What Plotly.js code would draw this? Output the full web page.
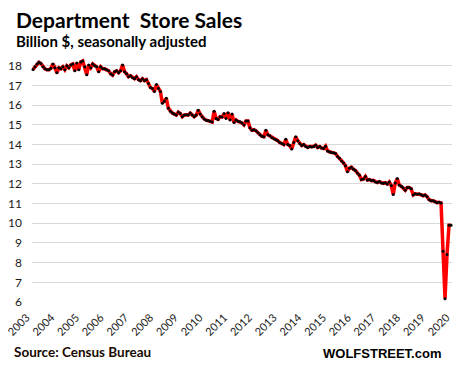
<!DOCTYPE html>
<html>
<head>
<meta charset="utf-8">
<script src="https://cdn.plot.ly/plotly-3.0.1.min.js"></script>
<style>html,body{margin:0;padding:0;background:#fff;}#chart{width:456px;height:366px;}</style>
</head>
<body>
<div id="chart"></div>
<script>
// Monthly department store sales, billion $, seasonally adjusted (Jan 2003 - Jul 2020)
const v2003 = [17.82, 17.95, 18.10, 18.18, 18.12, 17.95, 17.85, 17.80, 17.80, 17.88, 18.10, 17.90];
const v2004 = [17.65, 17.90, 17.85, 17.95, 17.80, 18.00, 17.90, 18.05, 18.10, 17.75, 18.15, 17.80];
const v2005 = [18.20, 18.25, 17.95, 17.55, 18.05, 17.90, 18.10, 18.00, 17.95, 17.70, 17.95, 17.85];
const v2006 = [17.85, 17.80, 17.75, 17.60, 17.53, 17.70, 17.75, 17.65, 17.75, 18.05, 17.70, 17.60];
const v2007 = [17.45, 17.50, 17.40, 17.35, 17.45, 17.30, 17.25, 17.35, 17.25, 17.30, 17.10, 16.90];
const v2008 = [16.85, 16.70, 17.05, 16.85, 16.70, 16.10, 16.20, 16.35, 15.85, 15.70, 15.60, 15.55];
const v2009 = [15.50, 15.65, 15.58, 15.42, 15.50, 15.52, 15.50, 15.60, 15.50, 15.42, 15.50, 15.75];
const v2010 = [15.55, 15.42, 15.30, 15.24, 15.22, 15.18, 15.15, 15.70, 15.33, 15.28, 15.42, 15.40];
const v2011 = [15.58, 15.33, 15.62, 15.25, 15.55, 15.12, 15.25, 15.18, 15.16, 15.10, 15.00, 15.20];
const v2012 = [15.20, 14.85, 14.73, 14.76, 14.70, 14.60, 14.50, 14.42, 14.40, 14.73, 14.50, 14.45];
const v2013 = [14.35, 14.30, 14.25, 14.20, 14.10, 14.05, 14.00, 14.27, 14.00, 13.95, 13.77, 14.10];
const v2014 = [14.40, 14.20, 14.05, 13.95, 14.00, 13.90, 13.85, 13.90, 13.88, 13.90, 13.97, 13.85];
const v2015 = [13.90, 13.82, 13.80, 13.92, 13.68, 13.62, 13.60, 13.58, 13.55, 13.40, 13.30, 13.17];
const v2016 = [13.07, 12.92, 12.62, 12.80, 12.85, 12.75, 12.68, 12.55, 12.44, 12.22, 12.25, 12.38];
const v2017 = [12.20, 12.22, 12.17, 12.18, 12.10, 12.07, 12.12, 12.05, 12.03, 12.06, 12.00, 12.10];
const v2018 = [11.92, 11.46, 12.05, 12.27, 11.95, 11.88, 11.80, 11.68, 11.82, 11.82, 11.75, 11.44];
const v2019 = [11.50, 11.48, 11.50, 11.45, 11.40, 11.44, 11.35, 11.20, 11.15, 11.15, 11.10, 11.05];
const v2020 = [11.07, 11.03, 8.58, 6.17, 8.42, 9.90, 9.90];

const yearLabels = ["2003","2004","2005","2006","2007","2008","2009","2010","2011","2012","2013","2014","2015","2016","2017","2018","2019","2020"];

const sales = [].concat(v2003, v2004, v2005, v2006, v2007, v2008, v2009, v2010, v2011, v2012, v2013, v2014, v2015, v2016, v2017, v2018, v2019, v2020);
const monthIndex = sales.map((_, i) => i);

// label positions along the month axis (spread as in the original chart)
const tickPos = yearLabels.map((_, k) => -3.2 + k * 12.41);

// geometry: plot area from 26px to 452px; data axis starts at 32px
const L = 26, R = 4, PW = 456 - L - R;
const xMin = -0.5, xMax = 210.5;
const pxPerUnit = (452 - 32) / (xMax - xMin);
const x2Min = xMin - (32 - L) / pxPerUnit;

const trace = {
  x: monthIndex,
  y: sales,
  type: 'scatter',
  mode: 'lines+markers',
  line: {color: '#ff0000', width: 3.5},
  marker: {color: '#000000', size: 3},
  cliponaxis: false,
  hoverinfo: 'skip'
};

// empty helper trace that carries the year-label axis
const labelTrace = {
  x: [], y: [], type: 'scatter', mode: 'markers',
  xaxis: 'x2', yaxis: 'y2', hoverinfo: 'skip', showlegend: false
};

const font = 'Lato, "Open Sans", sans-serif';
const layout = {
  width: 456, height: 366,
  margin: {l: L, r: R, t: 58, b: 64},
  paper_bgcolor: '#ffffff',
  plot_bgcolor: 'rgba(0,0,0,0)',
  showlegend: false,
  font: {family: font, color: '#1a1a1a'},
  xaxis: {
    domain: [(32 - L) / PW, 1],
    range: [xMin, xMax],
    showticklabels: false,
    showgrid: false,
    zeroline: false,
    showline: false,
    ticks: ''
  },
  xaxis2: {
    domain: [0, 1],
    anchor: 'y2',
    range: [x2Min, xMax],
    tickvals: tickPos,
    ticktext: yearLabels,
    tickangle: -45,
    showgrid: false,
    zeroline: false,
    showline: false,
    ticks: '',
    ticklabelstandoff: 6,
    tickfont: {family: font, size: 11, color: '#1a1a1a'}
  },
  yaxis: {
    range: [6, 18.4],
    tick0: 6,
    dtick: 1,
    showgrid: true,
    gridcolor: '#d9d9d9',
    gridwidth: 1,
    zeroline: false,
    showline: false,
    ticks: '',
    ticklabelstandoff: 9,
    tickfont: {family: font, size: 12, color: '#1a1a1a'}
  },
  yaxis2: {
    anchor: 'x2',
    range: [6, 18.4],
    visible: false,
    showgrid: false,
    zeroline: false
  },
  annotations: [
    {text: '<b>Department\u00A0\u00A0Store Sales</b>', xref: 'paper', yref: 'paper',
     x: (14 - L) / PW, y: (302 - 20) / 244, xanchor: 'left', yanchor: 'middle', showarrow: false,
     font: {family: font, size: 21, color: '#000000'}},
    {text: '<b>Billion $, seasonally adjusted</b>', xref: 'paper', yref: 'paper',
     x: (14 - L) / PW, y: (302 - 41) / 244, xanchor: 'left', yanchor: 'middle', showarrow: false,
     font: {family: font, size: 15, color: '#000000'}},
    {text: '<b>Source: Census Bureau</b>', xref: 'paper', yref: 'paper',
     x: (12 - L) / PW, y: (302 - 352) / 244, xanchor: 'left', yanchor: 'middle', showarrow: false,
     font: {family: font, size: 13.5, color: '#1a0a00'}},
    {text: '<b>WOLFSTREET.com</b>', xref: 'paper', yref: 'paper',
     x: (443 - L) / PW, y: (302 - 353) / 244, xanchor: 'right', yanchor: 'middle', showarrow: false,
     font: {family: '"Liberation Sans", Arial, sans-serif', size: 13, color: '#000000'}}
  ]
};

Plotly.newPlot('chart', [labelTrace, trace], layout, {displayModeBar: false, staticPlot: true});
</script>
</body>
</html>
